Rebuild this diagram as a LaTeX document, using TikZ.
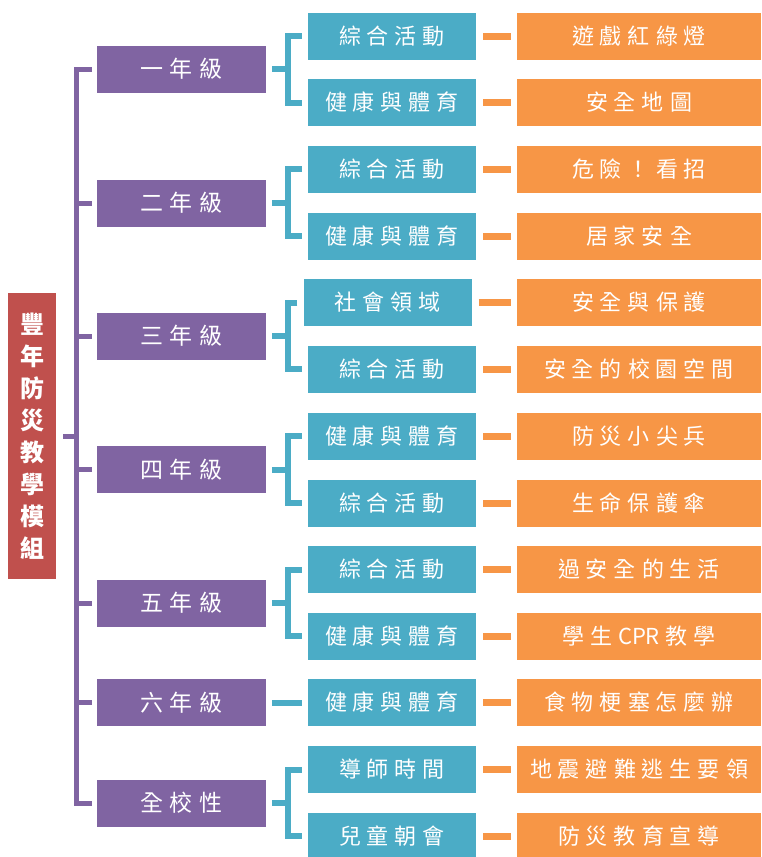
\documentclass[tikz,border=0pt]{standalone}
\usepackage{fontspec}
\newfontfamily\cjk{Noto Sans CJK TC}
\definecolor{cpur}{HTML}{8064A2}
\definecolor{cteal}{HTML}{4BACC6}
\definecolor{corange}{HTML}{F79646}
\definecolor{cred}{HTML}{C0504D}
\makeatletter
\let\trk@end\relax
\def\trk@stopmark{\trk@end}
\newcommand\tracked[2]{\def\trk@sp{#1}\trk@first#2\trk@end}
\def\trk@first#1{\def\trk@tmp{#1}\ifx\trk@tmp\trk@stopmark\else#1\expandafter\trk@next\fi}
\def\trk@next#1{\def\trk@tmp{#1}\ifx\trk@tmp\trk@stopmark\else\hspace{\trk@sp}#1\expandafter\trk@next\fi}
\makeatother
\begin{document}
\begin{tikzpicture}[x=1pt,y=-1pt,
  rootbox/.style={fill=cred, minimum width=48pt, minimum height=286pt, inner sep=0pt, text=white, align=center, font=\cjk\bfseries\fontsize{24}{32}\selectfont},
  gradebox/.style={fill=cpur, minimum width=169pt, minimum height=47pt, inner sep=0pt, text=white, font=\cjk\fontsize{23}{27}\selectfont},
  subjbox/.style={fill=cteal, minimum width=168pt, minimum height=47pt, inner sep=0pt, text=white, font=\cjk\fontsize{22}{26}\selectfont},
  topicbox/.style={fill=corange, minimum width=244pt, minimum height=47pt, inner sep=0pt, text=white, font=\cjk\fontsize{22}{26}\selectfont},
  trunk/.style={draw=cpur, line width=5pt},
  tealln/.style={draw=cteal, line width=6pt},
  orangeln/.style={draw=corange, line width=7pt}]
\useasboundingbox (0,0) rectangle (761,857);
% root
\node[rootbox] (root) at (32,436) {豐\\年\\防\\災\\教\\學\\模\\組};
% grades
\node[gradebox] (g1) at (181.5,69) {\tracked{7pt}{一年級}};
\node[gradebox] (g2) at (181.5,203) {\tracked{7pt}{二年級}};
\node[gradebox] (g3) at (181.5,336) {\tracked{7pt}{三年級}};
\node[gradebox] (g4) at (181.5,469.5) {\tracked{7pt}{四年級}};
\node[gradebox] (g5) at (181.5,603) {\tracked{7pt}{五年級}};
\node[gradebox] (g6) at (181.5,702.5) {\tracked{7pt}{六年級}};
\node[gradebox] (g7) at (181.5,803) {\tracked{7pt}{全校性}};
% subjects
\node[subjbox] (t1) at (392,36) {\tracked{6pt}{綜合活動}};
\node[subjbox] (t2) at (392,102.5) {\tracked{6pt}{健康與體育}};
\node[subjbox] (t3) at (392,169) {\tracked{6pt}{綜合活動}};
\node[subjbox] (t4) at (392,236) {\tracked{6pt}{健康與體育}};
\node[subjbox] (t5) at (387.5,302.5) {\tracked{6pt}{社會領域}};
\node[subjbox] (t6) at (392,369) {\tracked{6pt}{綜合活動}};
\node[subjbox] (t7) at (392,436) {\tracked{6pt}{健康與體育}};
\node[subjbox] (t8) at (392,503) {\tracked{6pt}{綜合活動}};
\node[subjbox] (t9) at (392,569.5) {\tracked{6pt}{綜合活動}};
\node[subjbox] (t10) at (392,636) {\tracked{6pt}{健康與體育}};
\node[subjbox] (t11) at (392,702.5) {\tracked{6pt}{健康與體育}};
\node[subjbox] (t12) at (392,769.5) {\tracked{6pt}{導師時間}};
\node[subjbox] (t13) at (392,836) {\tracked{6pt}{兒童朝會}};
% topics
\node[topicbox] (o1) at (639,36) {\tracked{6pt}{遊戲紅綠燈}};
\node[topicbox] (o2) at (639,102.5) {\tracked{6pt}{安全地圖}};
\node[topicbox] (o3) at (639,169) {\tracked{6pt}{危險！看招}};
\node[topicbox] (o4) at (639,236) {\tracked{6pt}{居家安全}};
\node[topicbox] (o5) at (639,302.5) {\tracked{6pt}{安全與保護}};
\node[topicbox] (o6) at (639,369) {\tracked{6pt}{安全的校園空間}};
\node[topicbox] (o7) at (639,436) {\tracked{6pt}{防災小尖兵}};
\node[topicbox] (o8) at (639,503) {\tracked{6pt}{生命保護傘}};
\node[topicbox] (o9) at (639,569.5) {\tracked{6pt}{過安全的生活}};
\node[topicbox] (o10) at (639,636) {\tracked{6pt}{學生{CPR}教學}};
\node[topicbox] (o11) at (639,702.5) {\tracked{6pt}{食物梗塞怎麼辦}};
\node[topicbox] (o12) at (639,769.5) {\tracked{6pt}{地震避難逃生要領}};
\node[topicbox] (o13) at (639,836) {\tracked{6pt}{防災教育宣導}};
% trunk
\draw[trunk] ([xshift=-5pt]g1.west) -- ++(-15,0) |- ([xshift=-5pt]g7.west);
\foreach \g in {g2,g3,g4,g5,g6} \draw[trunk] ([xshift=-5pt]\g.west) -- ++(-15,0);
\draw[trunk] ([xshift=7pt]root.east) -- ++(14,0);
% teal brackets
\foreach \g/\a/\b in {g1/t1/t2, g2/t3/t4, g3/t5/t6, g4/t7/t8, g5/t9/t10, g7/t12/t13} {
  \draw[tealln] ([xshift=6pt]\g.east) -- ++(16,0);
  \draw[tealln] ([xshift=-6pt]\a.west) -| ([xshift=22pt]\g.east) |- ([xshift=-6pt]\b.west);
}
\draw[tealln] ([xshift=6pt]g6.east) -- ([xshift=-6pt]t11.west);
% orange ticks
\foreach \i in {1,...,13} \draw[orangeln] ([xshift=7pt]t\i.east) -- ([xshift=-6pt]o\i.west);
\end{tikzpicture}
\end{document}
